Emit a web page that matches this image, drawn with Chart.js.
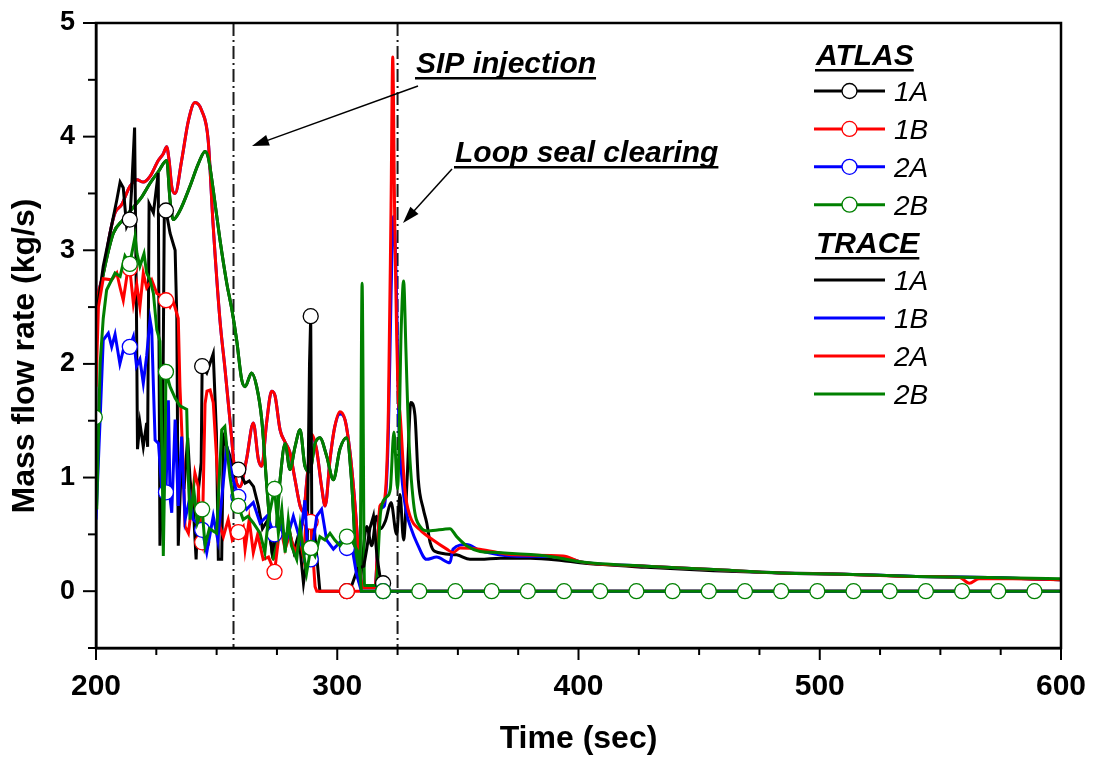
<!DOCTYPE html>
<html>
<head>
<meta charset="utf-8">
<title>Mass flow rate - ATLAS vs TRACE</title>
<script src="https://cdn.jsdelivr.net/npm/chart.js@4.4.1/dist/chart.umd.min.js"></script>
<style>
  html, body { margin: 0; padding: 0; background: #fff; }
  #wrap { width: 1095px; height: 760px; }
</style>
</head>
<body>
<div id="wrap"><canvas id="flowChart" width="1095" height="760"></canvas></div>
<script>
// event lines (sec): SIP injection, loop seal clearing
const eventTimes = [257, 325];

// times where the ATLAS curves carry an open circle
const atlasMarkT = [199.5, 214, 229, 244, 259, 274, 289, 304, 319, 334, 349, 364, 379, 394,
    409, 424, 439, 454, 469, 484, 499, 514, 529, 544, 559, 574, 589];

// ATLAS 1A (black, circles)
const atlas1aT = [200, 203, 205.8, 208.6, 210, 211.3, 212.7, 214, 214.8, 216, 216.8, 217.2, 218.2, 219.6, 221,
    221.4, 222, 223.8, 225.8, 226.5, 227.5, 228.3, 229, 230.7, 232.8, 233.5, 234.1, 235.5, 236.5, 238,
    239, 240.3, 241.5, 242.5, 243.6, 244, 245.9, 248.6, 249.9, 250.7, 252.1, 252.8, 255.5, 257, 259,
    261.8, 263.5, 265.3, 267.3, 269, 271, 273, 276, 278, 280, 282, 284, 286, 287.5, 288.5,
    289, 289.5, 290.5, 292.8, 304, 306, 308.5, 311, 312.2, 313.5, 315, 316.5, 317.7, 319, 320, 600];
const atlas1aV = [2.39, 2.86, 3.15, 3.44, 3.6, 3.55, 3.21, 3.27, 3.55, 4.08, 2.39, 1.25, 1.48, 1.27, 1.48,
    1.27, 3.41, 3.33, 3.68, 0.4, 1.0, 3.3, 3.35, 3.15, 3.0, 2.4, 0.4, 1.2, 0.9, 1.35,
    0.98, 0.75, 0.28, 0.9, 1.13, 1.98, 1.92, 2.09, 1.4, 0.28, 0.28, 1.36, 1.19, 1.0, 1.07,
    0.95, 0.97, 0.92, 0.75, 0.55, 0.62, 0.35, 0.6, 0.45, 0.55, 0.35, 0.5, 0.07, 0.3, 2.0,
    2.42, 0.4, 0.55, 0, 0, 0.05, 0.2, 0.22, 0.37, 0.55, 0.66, 0.3, 0.13, 0.07, 0, 0];

// ATLAS 1B (red, circles)
const atlas1bT = [200, 201, 203, 206.5, 208.6, 210, 211.3, 213.4, 214, 215.5, 216.9, 218.2, 219.6, 221, 223.1,
    225.2, 227, 229, 230.7, 232, 234.1, 234.8, 236.2, 236.9, 238.3, 239.7, 241, 242.4, 243.1, 244,
    245.2, 246, 247.3, 248.6, 250.7, 251.4, 252.8, 254.8, 256.5, 259, 261, 261.8, 263.5, 265.2, 267,
    269.3, 271.5, 274, 276.3, 278.4, 280.4, 282.5, 284.6, 286, 287.3, 289, 290.8, 291.5, 304, 600];
const atlas1bV = [1.8, 2.5, 2.75, 2.74, 2.8, 2.67, 2.56, 2.86, 2.84, 2.53, 2.7, 2.5, 2.8, 2.67, 2.74,
    2.62, 2.6, 2.56, 2.5, 2.55, 2.4, 1.8, 1.07, 0.57, 0.51, 0.75, 1.04, 0.92, 0.51, 0.43,
    1.65, 1.76, 1.77, 1.66, 0.92, 0.57, 0.48, 0.63, 0.45, 0.52, 0.57, 0.37, 0.63, 0.34, 0.5,
    0.28, 0.3, 0.17, 0.57, 0.37, 0.5, 0.34, 0.46, 0.3, 0.69, 0.61, 0.04, 0, 0, 0];

// ATLAS 2A (blue, circles)
const atlas2aT = [200, 201.7, 203, 205.1, 206.5, 207.9, 209.9, 212, 214, 215.5, 216.8, 218.2, 219.6, 221, 222.4,
    223.1, 223.8, 224.5, 225.9, 227.2, 229, 230, 230.7, 231.4, 232.8, 234.1, 235.5, 236.9, 239, 240.3,
    242, 244, 245.9, 248.6, 250.5, 252.5, 254.2, 256.8, 259, 262.4, 265.2, 268, 270.8, 274, 276.3,
    279, 281.8, 284.6, 286.6, 287.8, 289, 291.5, 293.5, 295.6, 298.4, 301.1, 304, 306, 308, 310, 319, 600];
const atlas2aV = [0.63, 1.51, 2.21, 2.27, 2.15, 2.26, 2.0, 2.18, 2.15, 2.24, 1.98, 2.04, 1.83, 2.07, 2.39,
    2.3, 1.8, 1.33, 1.3, 0.92, 0.87, 1.68, 0.82, 0.69, 1.51, 0.75, 1.36, 0.63, 0.83, 0.63,
    0.6, 0.54, 0.34, 0.66, 0.45, 0.9, 1.27, 0.98, 0.83, 0.72, 0.78, 0.6, 0.66, 0.5, 0.6,
    0.45, 0.66, 0.45, 0.8, 0.31, 0.28, 0.66, 0.72, 0.45, 0.37, 0.43, 0.38, 0.4, 0.15, 0, 0, 0];

// ATLAS 2B (green, circles)
const atlas2bT = [199.5, 200.3, 201.7, 203, 204.4, 207.9, 210, 212, 214, 216.2, 217, 218.2, 219.9, 221, 222.4,
    223.8, 225.2, 226.5, 227.4, 227.9, 228.6, 229, 230.7, 232.8, 234.8, 237.6, 238.3, 239, 240.5, 242,
    244, 245.2, 247, 250, 252.1, 253.4, 254.2, 255.5, 257, 259, 261, 263, 265.2, 268, 270,
    271.4, 274, 275.6, 277, 278.4, 279.7, 281, 283.2, 284.6, 286, 287.3, 289, 290.8, 292.8, 294.9,
    297, 299, 301.1, 304, 306, 308.7, 310, 319, 334, 349, 364, 379, 394, 409, 424,
    439, 454, 469, 484, 499, 514, 529, 544, 559, 574, 589, 600];
const atlas2bV = [1.53, 0.72, 2.0, 2.4, 2.65, 2.8, 2.77, 2.95, 2.88, 3.12, 2.97, 2.86, 2.97, 2.8, 2.74,
    2.62, 2.3, 2.2, 1.2, 0.31, 1.2, 1.93, 1.8, 1.7, 1.63, 1.6, 0.98, 0.63, 0.9, 0.6,
    0.72, 0.4, 0.55, 0.51, 1.42, 1.45, 1.27, 1.01, 0.8, 0.75, 0.63, 0.66, 0.6, 0.51, 0.34,
    0.63, 0.9, 0.51, 0.72, 0.34, 0.63, 0.4, 0.28, 0.57, 0.34, 0.16, 0.38, 0.31, 0.48, 0.45,
    0.51, 0.45, 0.4, 0.48, 0.45, 0.34, 0, 0, 0, 0, 0, 0, 0, 0, 0,
    0, 0, 0, 0, 0, 0, 0, 0, 0, 0, 0, 0];

// TRACE 1A (black)
const trace1aT = [200, 203.7, 207.2, 211.3, 215.5, 219, 222.4, 225.8, 229.3, 230.7, 232, 234.8, 238.9, 242.4, 245.2,
    246.5, 248.6, 251.4, 254.2, 256.3, 258.3, 260.4, 261.8, 264.5, 266.6, 268.7, 270.6, 272, 273.5, 276.3,
    278.4, 280.4, 282.5, 284.6, 286.6, 288.5, 290.8, 292.8, 295.6, 298.4, 301.1, 303.9, 305.9, 308, 309.4,
    310.5, 312.2, 314.3, 316.3, 318, 320, 322.3, 324.6, 326, 327.5, 329, 330.5, 332.2, 333.6, 335.7,
    337.1, 338.5, 340.5, 349.5, 355, 359.2, 367.5, 380, 393, 400.6, 428, 456, 484, 510, 540, 570, 600];
const trace1aV = [2.45, 2.86, 3.15, 3.27, 3.38, 3.47, 3.59, 3.69, 3.79, 3.44, 3.27, 3.35, 3.56, 3.76, 3.87,
    3.82, 3.53, 3.09, 2.71, 2.48, 2.21, 1.86, 1.8, 1.92, 1.8, 1.51, 0.98, 0.6, 0.28, 0.98,
    1.3, 1.07, 1.27, 1.42, 1.1, 1.05, 1.3, 1.35, 1.19, 0.98, 1.25, 1.35, 0.98, 0.22, 0.07,
    0.3, 0.57, 0.4, 0.66, 0.55, 0.62, 0.78, 0.5, 0.85, 0.45, 1.0, 1.66, 1.55, 0.98, 0.72,
    0.6, 0.43, 0.35, 0.32, 0.28, 0.28, 0.29, 0.29, 0.27, 0.25, 0.21, 0.18, 0.16, 0.15, 0.13, 0.12, 0.1];

// TRACE 1B (blue)
const trace1bT = [200, 203, 205.8, 207.9, 210.6, 214, 217, 219.6, 222.4, 225.8, 227.9, 229.3, 230.3, 231.4, 232.8,
    235.5, 238.3, 241, 243.8, 246.5, 248.5, 251.4, 253.5, 255.5, 258.3, 259.7, 262.4, 265.2, 267.3, 268.7,
    270.7, 272.8, 274.2, 276.3, 278.4, 280.4, 282.5, 284.6, 286, 287.5, 289.4, 291.4, 293.5, 295, 297,
    299, 301.1, 303.2, 305.3, 307.4, 309.4, 310.7, 315.6, 317.7, 319.5, 321.2, 322.3, 323.3, 324.6, 325.5,
    327, 328.7, 330.8, 332.9, 337, 341.2, 346.7, 348, 353.6, 359, 372.9, 393.6, 400.6, 428.3, 455.8,
    483.5, 510, 540, 570, 600];
const trace1bV = [2.56, 2.8, 3.15, 3.33, 3.4, 3.56, 3.62, 3.6, 3.65, 3.79, 3.85, 3.91, 3.79, 3.56, 3.5,
    3.79, 4.14, 4.3, 4.23, 3.97, 3.24, 2.38, 1.95, 1.51, 0.95, 0.92, 1.16, 1.48, 1.16, 1.1,
    1.48, 1.76, 1.72, 1.42, 1.31, 1.22, 0.98, 0.75, 0.7, 1.0, 1.36, 1.25, 0.92, 0.75, 1.16,
    1.45, 1.56, 1.51, 1.22, 0.75, 0.19, 0.03, 0.03, 0.72, 0.75, 1.4, 2.6, 3.3, 2.59, 1.5,
    0.95, 0.69, 0.54, 0.43, 0.28, 0.3, 0.25, 0.37, 0.41, 0.36, 0.31, 0.3, 0.26, 0.22, 0.19,
    0.16, 0.15, 0.13, 0.12, 0.1];

// TRACE 2A (red)
const trace2aT = [200, 203, 205.8, 207.9, 210.6, 214, 217, 219.6, 222.4, 225.8, 227.9, 229.3, 230.3, 231.4, 232.8,
    235.5, 238.3, 241, 243.8, 246.5, 248.5, 251.4, 253.5, 255.5, 258.3, 259.7, 262.4, 265.2, 267.3, 268.7,
    270.7, 272.8, 274.2, 276.3, 278.4, 280.4, 282.5, 284.6, 286, 287.5, 289.4, 291.4, 293.5, 295, 297,
    299, 301.1, 303.2, 305.3, 307.4, 309.4, 310.7, 315.6, 317.7, 319.5, 321.2, 322.3, 323, 323.8, 325.3,
    326, 328, 330.2, 334.3, 339.7, 345.4, 348, 350.9, 359, 372.9, 393.6, 400.6, 428.3, 455.8, 483.5,
    510, 540, 558, 562, 566, 580, 600];
const trace2aV = [2.56, 2.8, 3.15, 3.33, 3.4, 3.56, 3.62, 3.6, 3.65, 3.79, 3.85, 3.91, 3.79, 3.56, 3.5,
    3.79, 4.14, 4.3, 4.23, 3.97, 3.24, 2.38, 1.95, 1.51, 0.95, 0.92, 1.16, 1.48, 1.16, 1.1,
    1.48, 1.76, 1.72, 1.42, 1.31, 1.22, 0.98, 0.75, 0.7, 1.0, 1.38, 1.25, 0.92, 0.75, 1.16,
    1.45, 1.58, 1.51, 1.22, 0.75, 0.19, 0.03, 0.03, 0.75, 0.8, 1.6, 3.4, 4.7, 3.3, 1.71,
    1.57, 0.9, 0.66, 0.54, 0.45, 0.37, 0.34, 0.38, 0.37, 0.32, 0.31, 0.26, 0.22, 0.19, 0.16,
    0.15, 0.13, 0.12, 0.07, 0.11, 0.11, 0.1];

// TRACE 2B (green)
const trace2bT = [200, 203.7, 207.2, 211.3, 215.5, 219, 222.4, 225.8, 229.3, 230.7, 232, 234.8, 238.9, 242.4, 245.2,
    246.5, 248.6, 251.4, 254.2, 256.3, 258.3, 260.4, 261.8, 264.5, 266.6, 268.7, 270.6, 272, 273.5, 276.3,
    278.4, 280.4, 282.5, 284.6, 286.6, 288.5, 290.8, 292.8, 295.6, 298.4, 301.1, 303.9, 305.9, 308, 309.4,
    310.3, 311.3, 316, 318, 320.5, 322, 323.5, 325, 326.5, 327.5, 328.5, 329.5, 331.6, 334.3, 337.8,
    346.7, 349.5, 353.6, 359.2, 366, 386.8, 400.6, 428, 456, 484, 510, 540, 570, 600];
const trace2bV = [2.45, 2.86, 3.15, 3.27, 3.38, 3.47, 3.59, 3.69, 3.79, 3.44, 3.27, 3.35, 3.56, 3.76, 3.87,
    3.82, 3.53, 3.09, 2.71, 2.48, 2.21, 1.86, 1.8, 1.92, 1.8, 1.51, 0.98, 0.6, 0.28, 0.98,
    1.3, 1.07, 1.27, 1.42, 1.1, 1.05, 1.3, 1.35, 1.19, 0.98, 1.25, 1.35, 0.98, 0.22, 0.07,
    2.71, 0.05, 0.05, 0.7, 0.83, 0.9, 1.4, 0.9, 2.3, 2.73, 2.1, 1.42, 0.78, 0.57, 0.53,
    0.55, 0.48, 0.4, 0.35, 0.34, 0.31, 0.26, 0.22, 0.19, 0.16, 0.15, 0.13, 0.12, 0.11];

const FONT = '"Liberation Sans", Arial, Helvetica, sans-serif';
const BLACK = '#000000', RED = '#ff0000', BLUE = '#0000ff', GREEN = '#008000';

// pair a time array with a value array
function toPoints(ts, vs) {
    return ts.map((t, i) => ({ x: t, y: vs[i] }));
}

// build one line dataset; ATLAS curves get open circles at the marker times
function series(label, ts, vs, color, atlas, order) {
    return {
        label: label,
        data: toPoints(ts, vs),
        borderColor: color,
        borderWidth: 3,
        order: order,
        cubicInterpolationMode: atlas ? 'default' : 'monotone',
        tension: 0,
        pointRadius: atlas ? (ctx => (ctx.raw && atlasMarkT.includes(ctx.raw.x) ? 7.5 : 0)) : 0,
        pointHoverRadius: 0,
        pointBackgroundColor: '#ffffff',
        pointBorderColor: color,
        pointBorderWidth: 1.3,
    };
}

const atlasSets = [
    series('1A', atlas1aT, atlas1aV, BLACK, true, 3),
    series('1B', atlas1bT, atlas1bV, RED, true, 2),
    series('2A', atlas2aT, atlas2aV, BLUE, true, 1),
    series('2B', atlas2bT, atlas2bV, GREEN, true, 0),
];
const traceSets = [
    series('1A', trace1aT, trace1aV, BLACK, false, 7),
    series('1B', trace1bT, trace1bV, BLUE, false, 6),
    series('2A', trace2aT, trace2aV, RED, false, 5),
    series('2B', trace2bT, trace2bV, GREEN, false, 4),
];

// underlined bold italic text (legend headings, annotations)
function underlinedText(ctx, text, x, y, size) {
    ctx.font = `italic bold ${size}px ${FONT}`;
    ctx.textAlign = 'left';
    ctx.textBaseline = 'alphabetic';
    ctx.fillText(text, x, y);
    const w = ctx.measureText(text).width;
    ctx.fillRect(x - 1, y + 4, w + 1, 2.5);
}

// plain line with a filled arrowhead at (x1, y1)
function arrow(ctx, x0, y0, x1, y1) {
    const ang = Math.atan2(y1 - y0, x1 - x0);
    const len = 17, half = 5.5;
    ctx.beginPath();
    ctx.moveTo(x0, y0);
    ctx.lineTo(x1 - Math.cos(ang) * len * 0.8, y1 - Math.sin(ang) * len * 0.8);
    ctx.stroke();
    ctx.beginPath();
    ctx.moveTo(x1, y1);
    ctx.lineTo(x1 - Math.cos(ang) * len - Math.sin(ang) * half, y1 - Math.sin(ang) * len + Math.cos(ang) * half);
    ctx.lineTo(x1 - Math.cos(ang) * len + Math.sin(ang) * half, y1 - Math.sin(ang) * len - Math.cos(ang) * half);
    ctx.closePath();
    ctx.fill();
}

// one legend row: sample line (+ circle for ATLAS) and italic label
function legendRow(ctx, ds, y, withCircle) {
    ctx.strokeStyle = ds.borderColor;
    ctx.lineWidth = 3;
    ctx.beginPath();
    ctx.moveTo(814, y);
    ctx.lineTo(885, y);
    ctx.stroke();
    if (withCircle) {
        ctx.fillStyle = '#ffffff';
        ctx.lineWidth = 1.3;
        ctx.beginPath();
        ctx.arc(849.5, y, 7.5, 0, Math.PI * 2);
        ctx.fill();
        ctx.stroke();
    }
    ctx.fillStyle = '#000';
    ctx.font = `italic 28px ${FONT}`;
    ctx.textAlign = 'left';
    ctx.textBaseline = 'alphabetic';
    ctx.fillText(ds.label, 894, y + 10);
}

const figureDecor = {
    id: 'figureDecor',
    beforeDatasetsDraw(chart) {
        const { ctx, chartArea: a, scales: { x } } = chart;
        ctx.save();
        ctx.strokeStyle = '#1a1a1a';
        ctx.lineWidth = 2;
        ctx.setLineDash([13, 4, 2, 4]);
        eventTimes.forEach(t => {
            const px = x.getPixelForValue(t);
            ctx.beginPath();
            ctx.moveTo(px, a.top);
            ctx.lineTo(px, a.bottom);
            ctx.stroke();
        });
        ctx.restore();
    },
    afterDraw(chart) {
        const { ctx, chartArea: a, scales: { x, y } } = chart;
        ctx.save();

        // box around the plot
        ctx.strokeStyle = '#000';
        ctx.lineWidth = 2.5;
        ctx.strokeRect(a.left, a.top, a.right - a.left, a.bottom - a.top);

        // outward ticks, long on labelled values
        ctx.lineWidth = 2;
        x.ticks.forEach(tk => {
            const px = x.getPixelForValue(tk.value);
            const len = tk.value % 100 === 0 ? 12 : 7;
            ctx.beginPath();
            ctx.moveTo(px, a.bottom);
            ctx.lineTo(px, a.bottom + len);
            ctx.stroke();
        });
        y.ticks.forEach(tk => {
            const py = y.getPixelForValue(tk.value);
            const len = Number.isInteger(tk.value) ? 13 : 8;
            ctx.beginPath();
            ctx.moveTo(a.left, py);
            ctx.lineTo(a.left - len, py);
            ctx.stroke();
        });

        // y axis title
        ctx.save();
        ctx.translate(25, 356);
        ctx.rotate(-Math.PI / 2);
        ctx.fillStyle = '#000';
        ctx.font = `bold 32px ${FONT}`;
        ctx.textAlign = 'center';
        ctx.textBaseline = 'middle';
        ctx.fillText('Mass flow rate (kg/s)', 0, 0);
        ctx.restore();

        // legend
        ctx.fillStyle = '#000';
        underlinedText(ctx, 'ATLAS', 816, 65, 30);
        atlasSets.forEach((ds, i) => legendRow(ctx, ds, 91 + i * 37.9, true));
        ctx.fillStyle = '#000';
        underlinedText(ctx, 'TRACE', 816, 253, 30);
        traceSets.forEach((ds, i) => legendRow(ctx, ds, 280 + i * 38, false));

        // annotations
        ctx.fillStyle = '#000';
        ctx.strokeStyle = '#000';
        underlinedText(ctx, 'SIP injection', 416, 73, 30);
        underlinedText(ctx, 'Loop seal clearing', 455, 162, 30);
        ctx.lineWidth = 1.5;
        arrow(ctx, 418, 86, 252, 146);
        arrow(ctx, 452, 169, 403, 223);

        ctx.restore();
    }
};

Chart.defaults.font.family = FONT;
Chart.defaults.color = '#000';

new Chart(document.getElementById('flowChart').getContext('2d'), {
    type: 'line',
    data: { datasets: atlasSets.concat(traceSets) },
    options: {
        responsive: false,
        animation: false,
        events: [],
        layout: { padding: { top: 23, right: 34, left: 0, bottom: 0 } },
        plugins: {
            legend: { display: false },
            tooltip: { enabled: false },
        },
        scales: {
            x: {
                type: 'linear',
                min: 200,
                max: 600,
                // ticks are drawn by the plugin; tickLength only spaces the labels
                grid: { display: false, drawTicks: true, tickLength: 21 },
                border: { display: true, color: '#000', width: 2.5 },
                ticks: {
                    stepSize: 25,
                    autoSkip: false,
                    maxRotation: 0,
                    padding: 0,
                    color: '#000',
                    font: { size: 30, weight: 'bold' },
                    callback: v => (v % 100 === 0 ? v : ''),
                },
                title: {
                    display: true,
                    text: 'Time (sec)',
                    color: '#000',
                    font: { size: 32, weight: 'bold' },
                    padding: { top: 0, bottom: 2 },
                },
                afterFit: s => { s.height = 112; },
            },
            y: {
                type: 'linear',
                min: -0.5,
                max: 5,
                grid: { display: false, drawTicks: true, tickLength: 21 },
                border: { display: true, color: '#000', width: 2.5 },
                ticks: {
                    stepSize: 0.5,
                    autoSkip: false,
                    padding: 0,
                    color: '#000',
                    font: { size: 27, weight: 'bold' },
                    callback: v => (Number.isInteger(v) ? v : ''),
                },
                afterFit: s => { s.width = 96; },
            },
        },
    },
    plugins: [figureDecor],
});
</script>
</body>
</html>
